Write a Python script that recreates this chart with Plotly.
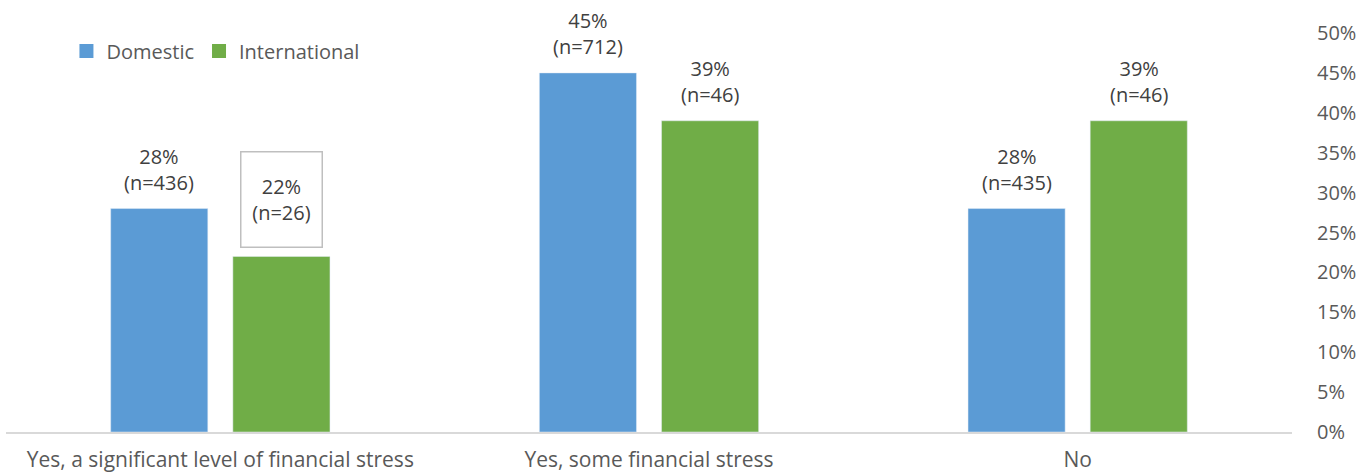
import plotly.graph_objects as go

# Survey responses: share of students reporting financial stress
categories = ["Yes, a significant level of financial stress",
              "Yes, some financial stress",
              "No"]
domestic_pct = [28, 45, 28]
domestic_n = [436, 712, 435]
international_pct = [22, 39, 39]
international_n = [26, 46, 46]

y_ticks = [0, 5, 10, 15, 20, 25, 30, 35, 40, 45, 50]

BLUE = "#5B9BD5"
GREEN = "#70AD47"
FONT = "Open Sans, sans-serif"
TICK_GREY = "#595959"
LABEL_GREY = "#404040"

fig = go.Figure()
fig.add_trace(go.Bar(name="Domestic", x=categories, y=domestic_pct,
                     marker_color=BLUE, hoverinfo="skip", showlegend=False))
fig.add_trace(go.Bar(name="International", x=categories, y=international_pct,
                     marker_color=GREEN, hoverinfo="skip", showlegend=False))

# Legend entries with larger square swatches
for name, color in (("Domestic", BLUE), ("International", GREEN)):
    fig.add_trace(go.Scatter(name=name, x=[None], y=[None], mode="markers",
                             marker=dict(symbol="square", size=14, color=color),
                             hoverinfo="skip"))

# Value labels above each bar (percentage and sample size)
slot_px = 61  # half a bar slot, in pixels
for i, cat in enumerate(categories):
    for pct, n, shift, boxed in ((domestic_pct[i], domestic_n[i], -slot_px, False),
                                 (international_pct[i], international_n[i], slot_px,
                                  i == 0)):
        extra = dict(bordercolor="#BFBFBF", borderwidth=1.5, borderpad=3,
                     width=74, height=88) if boxed else {}
        fig.add_annotation(
            x=cat, y=pct, xref="x", yref="y",
            text=f"{pct}%<br>(n={n})",
            showarrow=False, xanchor="center", yanchor="bottom",
            xshift=shift, yshift=8 if boxed else 11,
            font=dict(family=FONT, size=20, color=LABEL_GREY),
            **extra,
        )

fig.update_layout(
    width=1371, height=476,
    margin=dict(l=6, r=79, t=33, b=44),
    paper_bgcolor="white", plot_bgcolor="white",
    barmode="group", bargap=0.43, bargroupgap=0.205,
    font=dict(family=FONT, size=20, color=TICK_GREY),
    legend=dict(orientation="h", x=0.047, y=0.955, xanchor="left", yanchor="middle",
                font=dict(family=FONT, size=20, color=TICK_GREY),
                bgcolor="rgba(0,0,0,0)", itemwidth=30, traceorder="normal"),
    xaxis=dict(showline=True, linecolor="#D9D9D9", linewidth=1.5,
               ticks="", showgrid=False, ticklabelstandoff=8, automargin=False,
               tickfont=dict(family=FONT, size=21, color=TICK_GREY)),
    yaxis=dict(side="right", range=[0, 50], tickvals=y_ticks,
               ticktext=[f"{t}%" for t in y_ticks],
               showgrid=False, zeroline=False, showline=False, ticks="",
               ticklabelstandoff=24, automargin=False,
               tickfont=dict(family=FONT, size=20, color=TICK_GREY)),
)

fig.write_html("out.html")
